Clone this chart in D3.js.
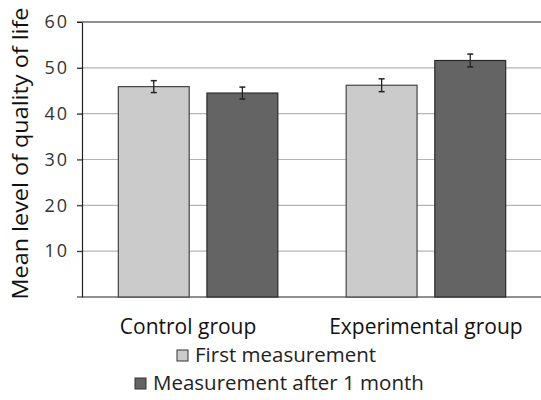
<!DOCTYPE html>
<html>
<head>
<meta charset="utf-8">
<script src="https://cdn.jsdelivr.net/npm/d3@7"></script>
<style>
  body { margin: 0; background: #fff; }
  svg { font-family: "Open Sans", "Noto Sans", sans-serif; }
</style>
</head>
<body>
<div id="chart"></div>
<script>
// data
var groups = ["Control group", "Experimental group"];
var series = ["First measurement", "Measurement after 1 month"];
var firstValues = [45.9, 46.2];
var firstErrors = [1.3, 1.4];
var secondValues = [44.5, 51.6];
var secondErrors = [1.3, 1.4];
var yTicks = [10, 20, 30, 40, 50, 60];
var colors = ["#cbcbcb", "#646464"];
var strokes = ["#444", "#2a2a2a"];

var margin = {top: 22, right: 0, bottom: 103, left: 82},
    width = 541 - margin.left - margin.right,
    height = 400 - margin.top - margin.bottom;

var svg = d3.select("#chart")
  .append("svg")
  .attr("width", 541)
  .attr("height", 400)
  .append("g")
  .attr("transform", "translate(" + margin.left + "," + margin.top + ")");

var y = d3.scaleLinear().domain([0, 60]).range([height, 0]);

var x0 = d3.scaleBand().domain(groups).range([1, width]).paddingInner(0.3).paddingOuter(0.155);
var x1 = d3.scaleBand().domain(series).range([0, x0.bandwidth()]).paddingInner(0.2);

// gridlines
svg.selectAll(".grid")
  .data(yTicks.filter(function(d) { return d < 60; }))
  .enter().append("line")
  .attr("x1", -5).attr("x2", width)
  .attr("y1", function(d) { return y(d); })
  .attr("y2", function(d) { return y(d); })
  .attr("stroke", "#b4b4b4")
  .attr("stroke-width", 1.2);

// top line
svg.append("line")
  .attr("x1", -5).attr("x2", width)
  .attr("y1", y(60)).attr("y2", y(60))
  .attr("stroke", "#222").attr("stroke-width", 1.2);

// Y axis
var yAxis = svg.append("g")
  .call(d3.axisLeft(y).tickValues(yTicks).tickSize(5).tickSizeOuter(0));
yAxis.select(".domain").attr("stroke", "#222").attr("stroke-width", 1.2);
yAxis.selectAll(".tick line").attr("stroke", "#222");
yAxis.selectAll("text")
  .attr("x", -13)
  .style("font-size", "18px")
  .style("letter-spacing", "2px")
  .style("font-family", "'Open Sans', sans-serif")
  .attr("fill", "#333");

// X axis line
svg.append("line")
  .attr("x1", -5).attr("x2", width)
  .attr("y1", height).attr("y2", height)
  .attr("stroke", "#222").attr("stroke-width", 1.2);

var data = [];
groups.forEach(function(g, i) {
  data.push({group: g, s: 0, value: firstValues[i], err: firstErrors[i]});
  data.push({group: g, s: 1, value: secondValues[i], err: secondErrors[i]});
});

svg.selectAll(".bar")
  .data(data)
  .enter().append("rect")
  .attr("x", function(d) { return x0(d.group) + x1(series[d.s]); })
  .attr("y", function(d) { return y(d.value); })
  .attr("width", x1.bandwidth())
  .attr("height", function(d) { return height - y(d.value); })
  .attr("fill", function(d) { return colors[d.s]; })
  .attr("stroke", function(d) { return strokes[d.s]; })
  .attr("stroke-width", 1.2);

// error bars
var eb = svg.selectAll(".err")
  .data(data)
  .enter().append("g")
  .attr("transform", function(d) {
    return "translate(" + (x0(d.group) + x1(series[d.s]) + x1.bandwidth() / 2) + ",0)";
  });
eb.append("line")
  .attr("y1", function(d) { return y(d.value + d.err); })
  .attr("y2", function(d) { return y(d.value - d.err); })
  .attr("stroke", "#222").attr("stroke-width", 1.3);
eb.append("line")
  .attr("x1", -3).attr("x2", 3)
  .attr("y1", function(d) { return y(d.value + d.err); })
  .attr("y2", function(d) { return y(d.value + d.err); })
  .attr("stroke", "#222").attr("stroke-width", 1.5);
eb.append("line")
  .attr("x1", -3).attr("x2", 3)
  .attr("y1", function(d) { return y(d.value - d.err); })
  .attr("y2", function(d) { return y(d.value - d.err); })
  .attr("stroke", "#222").attr("stroke-width", 1.5);

// group labels
svg.selectAll(".glabel")
  .data(groups)
  .enter().append("text")
  .attr("x", function(d, i) { return x0(d) + x0.bandwidth() / 2 - (i === 0 ? 10 : 0); })
  .attr("y", height + 37)
  .attr("text-anchor", "middle")
  .style("font-size", "21px")
  .attr("fill", "#111")
  .text(function(d) { return d; });

// Y axis title
svg.append("text")
  .attr("transform", "rotate(-90)")
  .attr("x", -height / 2 + 6)
  .attr("y", -54)
  .attr("text-anchor", "middle")
  .attr("textLength", 292)
  .attr("lengthAdjust", "spacingAndGlyphs")
  .style("font-size", "21.5px")
  .attr("fill", "#111")
  .text("Mean level of quality of life");

// legend
var legend = d3.select("svg").append("g");
var legendY = [350, 378];
var legendX = [177, 135];
series.forEach(function(s, i) {
  legend.append("rect")
    .attr("x", legendX[i]).attr("y", legendY[i])
    .attr("width", 11).attr("height", 11)
    .attr("fill", colors[i])
    .attr("stroke", "#333").attr("stroke-width", 1);
  legend.append("text")
    .attr("x", legendX[i] + 18).attr("y", legendY[i] + 12)
    .style("font-size", "20.5px")
    .attr("fill", "#222")
    .text(s);
});
</script>
</body>
</html>
